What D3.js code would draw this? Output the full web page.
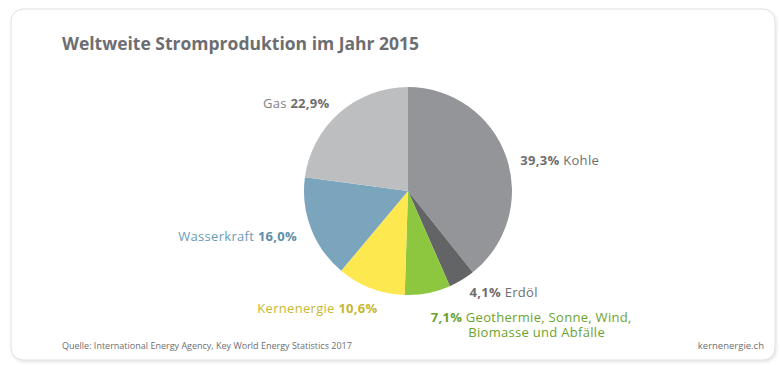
<!DOCTYPE html>
<html>
<head>
<meta charset="utf-8">
<script src="https://cdn.jsdelivr.net/npm/d3@7"></script>
<style>
  body { margin: 0; background: #fff; }
  svg text { font-family: "Open Sans", "DejaVu Sans", sans-serif; }
</style>
</head>
<body>
<svg id="chart" width="780" height="365"></svg>
<script>
// --- Data ---
const categories = ["Kohle", "Erdöl", "Geothermie, Sonne, Wind,|Biomasse und Abfälle", "Kernenergie", "Wasserkraft", "Gas"];
const shares = [39.3, 4.1, 7.1, 10.6, 16.0, 22.9];
const sliceColors = ["#939598", "#636466", "#8dc63f", "#fde94f", "#7aa5bd", "#bcbec0"];
const labelColors = ["#6d6e71", "#6d6e71", "#6ba22c", "#c6b733", "#6a9bb5", "#808285"];
const pctColors = ["#6d6e71", "#6d6e71", "#6ba22c", "#c6b733", "#5d8ea9", "#6d6e71"];
// small nudges so labels sit where the original puts them
const labelNudge = [[0, 9], [0, 0], [0, 10], [12, 6], [0, 2], [0, 2]];

const svg = d3.select("#chart");
const cx = 408, cy = 191, radius = 104, labelR = 119;

// --- Card ---
const defs = svg.append("defs");
const shadow = defs.append("filter").attr("id", "shadow")
    .attr("x", "-5%").attr("y", "-5%").attr("width", "110%").attr("height", "115%");
shadow.append("feDropShadow")
    .attr("dx", 1).attr("dy", 1.5).attr("stdDeviation", 1.5)
    .attr("flood-color", "#000").attr("flood-opacity", 0.12);

svg.append("rect")
    .attr("x", 11).attr("y", 9).attr("width", 764).attr("height", 351)
    .attr("rx", 12)
    .attr("fill", "#fff")
    .attr("stroke", "#e0e0e0")
    .attr("stroke-width", 1)
    .attr("filter", "url(#shadow)");

svg.append("text")
    .attr("x", 62).attr("y", 50)
    .attr("font-size", 17.5)
    .attr("font-weight", "bold")
    .attr("fill", "#6d6e71")
    .text("Weltweite Stromproduktion im Jahr 2015");

// --- Pie ---
const pie = d3.pie().sort(null).value(d => d)(shares);
const arc = d3.arc().innerRadius(0).outerRadius(radius);
const g = svg.append("g").attr("transform", `translate(${cx},${cy})`);

g.selectAll("path")
    .data(pie)
    .enter()
    .append("path")
    .attr("d", arc)
    .attr("fill", (d, i) => sliceColors[i]);

// --- Labels ---
const fmt = v => d3.format(".1f")(v).replace(".", ",") + "%";

pie.forEach((d, i) => {
    const mid = (d.startAngle + d.endAngle) / 2;
    const x = labelR * Math.sin(mid) + labelNudge[i][0];
    const y = -labelR * Math.cos(mid) + labelNudge[i][1];
    const right = Math.sin(mid) > 0.05;
    const lines = categories[i].split("|");
    const t = g.append("text")
        .attr("x", x)
        .attr("y", y)
        .attr("dy", "0.35em")
        .attr("font-size", 13)
        .attr("text-anchor", right ? "start" : "end")
        .attr("letter-spacing", 0.3);
    if (right) {
        t.append("tspan").attr("font-weight", "bold").attr("fill", pctColors[i]).text(fmt(shares[i]) + " ");
        t.append("tspan").attr("fill", labelColors[i]).text(lines[0]);
        if (lines[1]) {
            // second line centred under the first, same text element
            t.append("tspan")
                .attr("x", x + 106)
                .attr("dy", 15)
                .attr("text-anchor", "middle")
                .attr("fill", labelColors[i])
                .text(lines[1]);
        }
    } else {
        t.append("tspan").attr("fill", labelColors[i]).text(lines[0] + " ");
        t.append("tspan").attr("font-weight", "bold").attr("fill", pctColors[i]).text(fmt(shares[i]));
    }
});

// --- Footer ---
svg.append("text")
    .attr("x", 62).attr("y", 349)
    .attr("font-size", 9)
    .attr("fill", "#6d6e71")
    .text("Quelle: International Energy Agency, Key World Energy Statistics 2017");

svg.append("text")
    .attr("x", 764).attr("y", 349)
    .attr("font-size", 9.5)
    .attr("text-anchor", "end")
    .attr("fill", "#6d6e71")
    .text("kernenergie.ch");
</script>
</body>
</html>
